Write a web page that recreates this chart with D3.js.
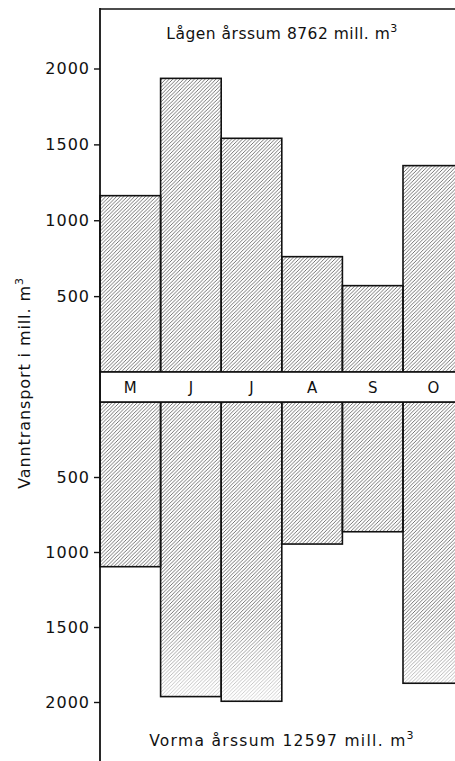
<!DOCTYPE html>
<html>
<head>
<meta charset="utf-8">
<script src="https://cdn.jsdelivr.net/npm/d3@7"></script>
<style>
  html, body { margin: 0; padding: 0; background: #fff; overflow: hidden; }
  svg { display: block; font-family: "DejaVu Sans", "Liberation Sans", sans-serif; }
</style>
</head>
<body>
<svg id="chart"></svg>
<script>
// month labels (May - October)
const months = ["M", "J", "J ", "A", "S", "O"];
// monthly water transport, mill. m3
const lagen = [1162, 1935, 1540, 760, 569, 1360];
const vorma = [1098, 1964, 1995, 947, 865, 1875];
const ticks = [500, 1000, 1500, 2000];

const W = 455, H = 761;
const svg = d3.select("#chart").attr("width", W).attr("height", H);

const defs = svg.append("defs");
const pat = defs.append("pattern")
  .attr("id", "hatch")
  .attr("patternUnits", "userSpaceOnUse")
  .attr("width", 3.6).attr("height", 3.6);
pat.append("rect").attr("width", 3.6).attr("height", 3.6).attr("fill", "#fff");
pat.append("path")
  .attr("d", "M-1,1 l2,-2 M0,3.6 l3.6,-3.6 M2.6,4.6 l2,-2")
  .attr("stroke", "#3a3a3a")
  .attr("stroke-width", 0.7);

// print fades out at the foot of the lower bars
const grad = defs.append("linearGradient")
  .attr("id", "fade").attr("x1", 0).attr("y1", 0).attr("x2", 0).attr("y2", 1);
grad.append("stop").attr("offset", "0%").attr("stop-color", "#fff").attr("stop-opacity", 0);
grad.append("stop").attr("offset", "100%").attr("stop-color", "#fff").attr("stop-opacity", 0.75);

const axisX = 100;
const x = d3.scaleBand().domain(months).range([axisX, axisX + 6 * 60.6]).padding(0);
const yTop = d3.scaleLinear().domain([0, 2000]).range([372, 68.5]);
const yBot = d3.scaleLinear().domain([0, 2000]).range([402, 702]);

// frame
svg.append("line")
  .attr("x1", axisX).attr("x2", W + 20).attr("y1", 9).attr("y2", 9)
  .attr("stroke", "#111").attr("stroke-width", 1.6);

// upper bars (Lågen)
svg.append("g").selectAll("rect")
  .data(lagen)
  .join("rect")
  .attr("x", (d, i) => x(months[i]))
  .attr("y", d => yTop(d))
  .attr("width", x.bandwidth())
  .attr("height", d => yTop(0) - yTop(d))
  .attr("fill", "url(#hatch)");

// lower bars (Vorma)
svg.append("g").selectAll("rect")
  .data(vorma)
  .join("rect")
  .attr("x", (d, i) => x(months[i]))
  .attr("y", yBot(0))
  .attr("width", x.bandwidth())
  .attr("height", d => yBot(d) - yBot(0))
  .attr("fill", "url(#hatch)");

svg.append("rect")
  .attr("x", axisX).attr("y", yBot(1400))
  .attr("width", W - axisX).attr("height", yBot(2010) - yBot(1400))
  .attr("fill", "url(#fade)");

// outlines
const outline = g => g
  .attr("fill", "none").attr("stroke", "#111").attr("stroke-width", 1.6);
svg.append("g").call(outline).selectAll("rect")
  .data(lagen)
  .join("rect")
  .attr("x", (d, i) => x(months[i]))
  .attr("y", d => yTop(d))
  .attr("width", x.bandwidth())
  .attr("height", d => yTop(0) - yTop(d));
svg.append("g").call(outline).selectAll("rect")
  .data(vorma)
  .join("rect")
  .attr("x", (d, i) => x(months[i]))
  .attr("y", yBot(0))
  .attr("width", x.bandwidth())
  .attr("height", d => yBot(d) - yBot(0));

// month band
svg.append("rect")
  .attr("x", axisX).attr("y", yTop(0))
  .attr("width", W + 20 - axisX).attr("height", yBot(0) - yTop(0))
  .attr("fill", "#fff").attr("stroke", "#111").attr("stroke-width", 1.6);
svg.append("g").selectAll("text")
  .data(months)
  .join("text")
  .attr("x", d => x(d) + x.bandwidth() / 2)
  .attr("y", (yTop(0) + yBot(0)) / 2 + 6)
  .attr("text-anchor", "middle")
  .attr("font-size", 15)
  .attr("fill", "#111")
  .text(d => d.trim());

// y axes
const axisStyle = g => {
  g.select(".domain").remove();
  g.selectAll("line").attr("stroke", "#111").attr("stroke-width", 1.4);
  g.selectAll("text").attr("font-size", 16).attr("letter-spacing", 1)
    .attr("fill", "#111").attr("font-family", "DejaVu Sans, sans-serif");
};
svg.append("g")
  .attr("transform", `translate(${axisX},0)`)
  .call(d3.axisLeft(yTop).tickValues(ticks).tickFormat(d3.format("d")).tickSize(6).tickPadding(4))
  .call(axisStyle);
svg.append("g")
  .attr("transform", `translate(${axisX},0)`)
  .call(d3.axisLeft(yBot).tickValues(ticks).tickFormat(d3.format("d")).tickSize(6).tickPadding(4))
  .call(axisStyle);

svg.append("line")
  .attr("x1", axisX).attr("x2", axisX).attr("y1", 8).attr("y2", H)
  .attr("stroke", "#111").attr("stroke-width", 1.8);

// titles
const title = (txt, y, spacing) => {
  const t = svg.append("text")
    .attr("x", 282).attr("y", y)
    .attr("text-anchor", "middle")
    .attr("font-size", 15.5)
    .attr("letter-spacing", spacing)
    .attr("fill", "#111");
  t.append("tspan").text(txt);
  t.append("tspan").attr("font-size", 11).attr("dy", -7).text("3");
};
title("Lågen årssum 8762 mill. m", 39, 0.5);
title("Vorma årssum 12597 mill. m", 746, 1.3);

// y label
const yl = svg.append("text")
  .attr("transform", "translate(30,383) rotate(-90)")
  .attr("text-anchor", "middle")
  .attr("font-size", 16)
  .attr("letter-spacing", 0.9)
  .attr("fill", "#111");
yl.append("tspan").text("Vanntransport i mill. m");
yl.append("tspan").attr("font-size", 11).attr("dy", -7).text("3");
</script>
</body>
</html>
